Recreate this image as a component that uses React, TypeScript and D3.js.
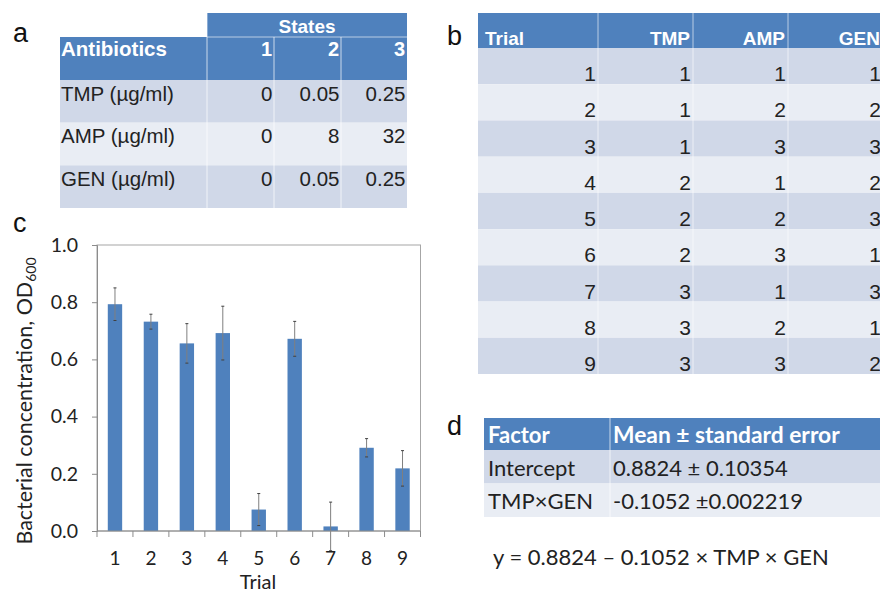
import React, { useEffect, useRef } from "react";
import * as d3 from "d3";

// panel a: antibiotic concentrations per state
const stateLabels = ["1", "2", "3"];
const antibiotics = ["TMP (µg/ml)", "AMP (µg/ml)", "GEN (µg/ml)"];
const stateValues = [
  ["0", "0.05", "0.25"],
  ["0", "8", "32"],
  ["0", "0.05", "0.25"],
];

// panel b: orthogonal array of trials
const trialHeaders = ["Trial", "TMP", "AMP", "GEN"];
const trials = ["1", "2", "3", "4", "5", "6", "7", "8", "9"];
const tmpStates = [1, 1, 1, 2, 2, 2, 3, 3, 3];
const ampStates = [1, 2, 3, 1, 2, 3, 1, 2, 3];
const genStates = [1, 2, 3, 2, 3, 1, 3, 1, 2];

// panel c: bacterial concentration (OD600) per trial
const odMeans = [0.793, 0.732, 0.656, 0.692, 0.075, 0.672, 0.016, 0.291, 0.219];
const odErrors = [0.057, 0.026, 0.069, 0.094, 0.056, 0.061, 0.085, 0.032, 0.062];
const yTicks = [0, 0.2, 0.4, 0.6, 0.8, 1.0];

// panel d: regression
const factorHeaders = ["Factor", "Mean ± standard error"];
const factors = ["Intercept", "TMP×GEN"];
const factorStats = ["0.8824 ± 0.10354", "-0.1052 ±0.002219"];
const equation = "y = 0.8824 – 0.1052 × TMP × GEN";

const BLUE = "#4f81bd";
const ROW_DARK = "#d0d8e8";
const ROW_LIGHT = "#e9edf4";
const ARIAL = "'Liberation Sans', Arial, sans-serif";
const CAL = "Lato, 'Open Sans', sans-serif";

const App = () => {
  const ref = useRef<SVGSVGElement>(null);

  useEffect(() => {
    const svg = d3.select(ref.current);
    svg.selectAll("*").remove();

    // panel letters
    const letters = [
      { t: "a", x: 13, y: 42 },
      { t: "b", x: 447, y: 45 },
      { t: "c", x: 13, y: 232 },
      { t: "d", x: 447, y: 435 },
    ];
    svg
      .selectAll("text.letter")
      .data(letters)
      .enter()
      .append("text")
      .attr("class", "letter")
      .attr("x", (d) => d.x)
      .attr("y", (d) => d.y)
      .attr("font-family", ARIAL)
      .attr("font-size", 27)
      .attr("fill", "#111")
      .text((d) => d.t);

    // ---------- panel a ----------
    const a = svg.append("g");
    const aCols = [60, 207, 274, 341, 407];
    const aRow = d3.scaleBand().domain(antibiotics).range([80, 208]);

    a.append("rect").attr("x", 207).attr("y", 13).attr("width", 200).attr("height", 24).attr("fill", BLUE);
    a.append("rect").attr("x", 60).attr("y", 37).attr("width", 347).attr("height", 43).attr("fill", BLUE);
    antibiotics.forEach((name, i) => {
      a.append("rect")
        .attr("x", 60)
        .attr("y", aRow(name)!)
        .attr("width", 347)
        .attr("height", aRow.bandwidth())
        .attr("fill", i % 2 === 0 ? ROW_DARK : ROW_LIGHT);
    });
    // column separators
    [207, 274, 341].forEach((cx) => {
      a.append("line")
        .attr("x1", cx).attr("x2", cx)
        .attr("y1", cx === 207 ? 13 : 37).attr("y2", 208)
        .attr("stroke", "#fff").attr("stroke-opacity", 0.7);
    });
    a.append("line").attr("x1", 207).attr("x2", 407).attr("y1", 37).attr("y2", 37).attr("stroke", "#fff").attr("stroke-opacity", 0.6);

    a.append("text").attr("x", 307).attr("y", 33).attr("text-anchor", "middle")
      .attr("font-family", ARIAL).attr("font-weight", "bold").attr("font-size", 19).attr("fill", "#fff").text("States");
    a.append("text").attr("x", 61).attr("y", 56)
      .attr("font-family", ARIAL).attr("font-weight", "bold").attr("font-size", 20.5).attr("fill", "#fff").text("Antibiotics");
    stateLabels.forEach((s, j) => {
      a.append("text").attr("x", aCols[j + 2] - 2).attr("y", 56).attr("text-anchor", "end")
        .attr("font-family", ARIAL).attr("font-weight", "bold").attr("font-size", 20).attr("fill", "#fff").text(s);
    });
    antibiotics.forEach((name, i) => {
      const by = aRow(name)! + 20.5;
      a.append("text").attr("x", 61).attr("y", by)
        .attr("font-family", ARIAL).attr("font-size", 20.5).attr("fill", "#222").text(name);
      stateValues[i].forEach((v, j) => {
        a.append("text").attr("x", aCols[j + 2] - 1.5).attr("y", by).attr("text-anchor", "end")
          .attr("font-family", ARIAL).attr("font-size", 20.5).attr("fill", "#222").text(v);
      });
    });

    // ---------- panel b ----------
    const b = svg.append("g");
    const bCols = [478, 598, 693, 788, 883];
    const bRow = d3.scaleBand().domain(trials).range([48, 374]);
    b.append("rect").attr("x", 478).attr("y", 13).attr("width", 405).attr("height", 35).attr("fill", BLUE);
    trials.forEach((t, i) => {
      b.append("rect").attr("x", 478).attr("y", bRow(t)!).attr("width", 405)
        .attr("height", bRow.bandwidth()).attr("fill", i % 2 === 0 ? ROW_DARK : ROW_LIGHT);
    });
    bCols.slice(1, 4).forEach((cx) => {
      b.append("line").attr("x1", cx).attr("x2", cx).attr("y1", 13).attr("y2", 374)
        .attr("stroke", "#fff").attr("stroke-opacity", 0.6);
    });
    trialHeaders.forEach((h, j) => {
      b.append("text")
        .attr("x", j === 0 ? 485 : bCols[j + 1] - 3)
        .attr("y", 45)
        .attr("text-anchor", j === 0 ? "start" : "end")
        .attr("font-family", ARIAL).attr("font-weight", "bold").attr("font-size", 19).attr("fill", "#fff")
        .text(h);
    });
    trials.forEach((t, i) => {
      const row = [t, tmpStates[i], ampStates[i], genStates[i]];
      const by = bRow(t)! + bRow.bandwidth() - 3;
      row.forEach((v, j) => {
        b.append("text").attr("x", bCols[j + 1] - 2).attr("y", by).attr("text-anchor", "end")
          .attr("font-family", ARIAL).attr("font-size", 21).attr("fill", "#222").text(String(v));
      });
    });

    // ---------- panel c ----------
    const c = svg.append("g");
    const x = d3.scaleBand().domain(trials).range([97, 420.5]).paddingInner(0.6).paddingOuter(0.3);
    const xb = d3.scaleBand().domain(trials).range([97, 420.5]).padding(0);
    const y = d3.scaleLinear().domain([0, 1]).range([531, 245]);

    c.append("rect").attr("x", 97).attr("y", y(1)).attr("width", 323.5).attr("height", y(0) - y(1))
      .attr("fill", "none").attr("stroke", "#a6a6a6").attr("stroke-width", 1);

    c.selectAll("rect.bar")
      .data(odMeans)
      .enter()
      .append("rect")
      .attr("class", "bar")
      .attr("x", (d, i) => x(trials[i])!)
      .attr("y", (d) => y(d))
      .attr("width", x.bandwidth())
      .attr("height", (d) => y(0) - y(d))
      .attr("fill", BLUE);

    // error bars
    const err = c.selectAll("g.err").data(odMeans).enter().append("g").attr("class", "err");
    const cx = (i: number) => x(trials[i])! + x.bandwidth() / 2;
    err.append("line")
      .attr("x1", (d, i) => cx(i)).attr("x2", (d, i) => cx(i))
      .attr("y1", (d, i) => y(d + odErrors[i])).attr("y2", (d, i) => y(d - odErrors[i]))
      .attr("stroke", "#7f7f7f").attr("stroke-width", 1);
    [1, -1].forEach((s) => {
      err.append("line")
        .attr("x1", (d, i) => cx(i) - 1.5).attr("x2", (d, i) => cx(i) + 1.5)
        .attr("y1", (d, i) => y(d + s * odErrors[i])).attr("y2", (d, i) => y(d + s * odErrors[i]))
        .attr("stroke", "#404040").attr("stroke-width", 1);
    });

    // y axis
    c.append("g")
      .attr("transform", "translate(97,0)")
      .call(d3.axisLeft(y).tickValues(yTicks).tickFormat(d3.format(".1f")).tickSize(5).tickPadding(14))
      .call((g) => g.select(".domain").attr("stroke", "#8c8c8c"))
      .call((g) => g.selectAll(".tick line").attr("stroke", "#8c8c8c"))
      .call((g) =>
        g.selectAll(".tick text").attr("font-family", CAL).attr("font-size", 19.5).attr("fill", "#222")
      );

    // x axis: line at zero with ticks at category boundaries
    c.append("line").attr("x1", 97).attr("x2", 420.5).attr("y1", y(0)).attr("y2", y(0)).attr("stroke", "#8c8c8c");
    const bounds = trials.map((t) => xb(t)!).concat([xb.range()[1]]);
    c.selectAll("line.xtick").data(bounds).enter().append("line")
      .attr("class", "xtick")
      .attr("x1", (d) => d).attr("x2", (d) => d)
      .attr("y1", y(0)).attr("y2", y(0) + 6)
      .attr("stroke", "#8c8c8c");
    c.selectAll("text.xlab").data(trials).enter().append("text")
      .attr("class", "xlab")
      .attr("x", (d) => xb(d)! + xb.bandwidth() / 2)
      .attr("y", 564.5)
      .attr("text-anchor", "middle")
      .attr("font-family", CAL).attr("font-size", 19).attr("fill", "#222")
      .text((d) => d);
    c.append("text").attr("x", 258).attr("y", 588.5).attr("text-anchor", "middle")
      .attr("font-family", CAL).attr("font-size", 20).attr("fill", "#222").text("Trial");

    const yl = c.append("text")
      .attr("transform", "translate(32,401) rotate(-90)")
      .attr("text-anchor", "middle")
      .attr("font-family", CAL).attr("font-size", 21.5).attr("fill", "#222");
    yl.append("tspan").text("Bacterial concentration, OD");
    yl.append("tspan").attr("font-size", 14).attr("dy", 4).text("600");

    // ---------- panel d ----------
    const d = svg.append("g");
    d.append("rect").attr("x", 484).attr("y", 418).attr("width", 400).attr("height", 32).attr("fill", BLUE);
    factors.forEach((f, i) => {
      d.append("rect").attr("x", 484).attr("y", 450 + i * 33.5).attr("width", 400).attr("height", 33.5)
        .attr("fill", i % 2 === 0 ? ROW_DARK : ROW_LIGHT);
    });
    d.append("line").attr("x1", 610).attr("x2", 610).attr("y1", 418).attr("y2", 517)
      .attr("stroke", "#fff").attr("stroke-opacity", 0.7);
    factorHeaders.forEach((h, j) => {
      d.append("text").attr("x", j === 0 ? 488 : 613).attr("y", 443)
        .attr("font-family", CAL).attr("font-weight", "bold").attr("font-size", j === 0 ? 22 : 22.8).attr("fill", "#fff").text(h);
    });
    factors.forEach((f, i) => {
      const by = 476 + i * 32.5;
      d.append("text").attr("x", 488).attr("y", by)
        .attr("font-family", CAL).attr("font-size", 22).attr("fill", "#222").text(f);
      d.append("text").attr("x", 613).attr("y", by)
        .attr("font-family", CAL).attr("font-size", 22).attr("fill", "#222").text(factorStats[i]);
    });
    d.append("text").attr("x", 493).attr("y", 565)
      .attr("font-family", CAL).attr("font-size", 22).attr("fill", "#222").text(equation);
  }, []);

  return (
    <svg
      ref={ref}
      width={880}
      height={593}
      style={{ position: "absolute", left: 0, top: 0, background: "#fff" }}
    />
  );
};

export default App;
